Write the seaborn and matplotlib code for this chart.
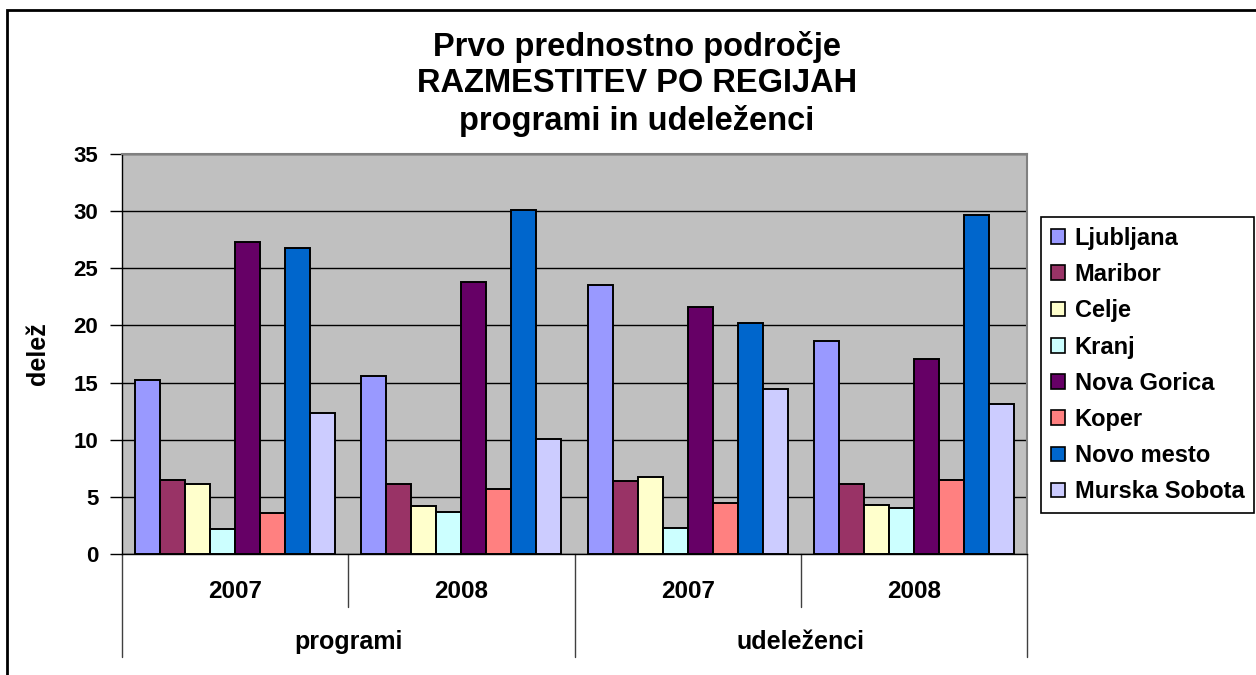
import matplotlib
matplotlib.use("Agg")
import matplotlib.pyplot as plt
import matplotlib.patches as mpatches
import matplotlib.transforms as mtransforms
import seaborn as sns
import pandas as pd

# ---- data ----
groups = ["programi", "udeleženci"]
years = ["2007", "2008"]
regions = ["Ljubljana", "Maribor", "Celje", "Kranj", "Nova Gorica",
           "Koper", "Novo mesto", "Murska Sobota"]
# values per region across: programi 2007, programi 2008, udeleženci 2007, udeleženci 2008
ljubljana = [15.2, 15.6, 23.5, 18.6]
maribor = [6.5, 6.1, 6.4, 6.1]
celje = [6.1, 4.2, 6.7, 4.3]
kranj = [2.2, 3.7, 2.3, 4.0]
nova_gorica = [27.3, 23.8, 21.6, 17.1]
koper = [3.6, 5.7, 4.5, 6.5]
novo_mesto = [26.8, 30.1, 20.2, 29.7]
murska_sobota = [12.3, 10.1, 14.4, 13.1]
colors = ["#9999FF", "#993366", "#FFFFCC", "#CCFFFF", "#660066",
          "#FF8080", "#0066CC", "#CCCCFF"]
yticks = [0, 5, 10, 15, 20, 25, 30, 35]

series = [ljubljana, maribor, celje, kranj, nova_gorica, koper, novo_mesto, murska_sobota]
cats = [f"{g} {y}" for g in groups for y in years]
rows = []
for reg, vals in zip(regions, series):
    for c, v in zip(cats, vals):
        rows.append({"kategorija": c, "regija": reg, "delez": v})
df = pd.DataFrame(rows)

sns.set_theme(style="white")
plt.rcParams["font.family"] = ["Liberation Sans", "DejaVu Sans"]
plt.rcParams["font.weight"] = "bold"
plt.rcParams["text.color"] = "black"
plt.rcParams["axes.labelcolor"] = "black"
plt.rcParams["xtick.color"] = "black"
plt.rcParams["ytick.color"] = "black"

W, H = 1256, 675
fig = plt.figure(figsize=(W / 100, H / 100), dpi=100)
ax = fig.add_axes([122 / W, 1 - 554 / H, 905 / W, 400 / H])
ax.set_facecolor("#C0C0C0")

sns.barplot(data=df, x="kategorija", y="delez", hue="regija", order=cats,
            hue_order=regions, palette=colors, width=0.884, dodge=True,
            edgecolor="black", linewidth=1.4, saturation=1, ax=ax, zorder=3)

ax.set_xlim(-0.5, len(cats) - 0.5)
ax.set_ylim(0, 35)
ax.set_yticks(yticks)
ax.set_yticklabels([str(t) for t in yticks], fontsize=16, fontweight="bold", color="black")
ax.yaxis.grid(True, color="black", linewidth=1)
ax.set_axisbelow(True)
ax.tick_params(axis="y", length=9, width=1, color="black", pad=8, left=True, direction="out")
ax.tick_params(axis="x", length=0, labelbottom=False)
ax.set_xlabel("")
ax.set_ylabel("delež", fontsize=18, fontweight="bold", color="black")
ax.yaxis.set_label_coords(-(122 - 38) / 905, 0.5)
ax.yaxis.label.set_va("center")
for side in ["top", "right"]:
    ax.spines[side].set_color("#808080")
    ax.spines[side].set_linewidth(1.5)
for side in ["left", "bottom"]:
    ax.spines[side].set_color("black")
    ax.spines[side].set_linewidth(1)

# hierarchical category axis
trans = mtransforms.blended_transform_factory(ax.transData, ax.transAxes)
inner_bottom = -(607 - 554) / 400
outer_bottom = -(657 - 554) / 400
for i in range(len(cats) + 1):
    xb = i - 0.5
    yb = outer_bottom if i % len(years) == 0 else inner_bottom
    ax.plot([xb, xb], [0, yb], transform=trans, color="#404040", lw=1, clip_on=False)
for i, c in enumerate(cats):
    ax.text(i, -(592 - 554) / 400, years[i % len(years)], transform=trans,
            ha="center", va="center", fontsize=17.5, fontweight="bold", color="black")
for j, g in enumerate(groups):
    xc = j * len(years) + (len(years) - 1) / 2
    ax.text(xc, -(642 - 554) / 400, g, transform=trans,
            ha="center", va="center", fontsize=18, fontweight="bold", color="black")

# title
title_lines = ["Prvo prednostno področje", "RAZMESTITEV PO REGIJAH", "programi in udeleženci"]
for line, yp in zip(title_lines, [47, 84, 121]):
    fig.text(637 / W, 1 - yp / H, line, ha="center", va="center",
             fontsize=23.5, fontweight="bold", color="black")

# legend
handles, labels = ax.get_legend_handles_labels()
if ax.get_legend() is not None:
    ax.get_legend().remove()
leg = fig.legend(handles, labels, loc="upper left",
                 bbox_to_anchor=(1041 / W, 1 - 217 / H), bbox_transform=fig.transFigure,
                 borderaxespad=0, frameon=True, fancybox=False, shadow=False,
                 framealpha=1, edgecolor="black", prop={"size": 17, "weight": "bold"},
                 handlelength=0.58, handleheight=0.58, handletextpad=0.42,
                 labelspacing=0.56, borderpad=0.42)
leg.get_frame().set_linewidth(1.2)
for h in leg.legend_handles:
    h.set_edgecolor("black")
    h.set_linewidth(1.2)
for t in leg.get_texts():
    t.set_color("black")

# outer chart border
border = mpatches.Rectangle((7 / W, -0.1), 1.2, 1 - 10 / H + 0.1, transform=fig.transFigure,
                            fill=False, edgecolor="black", linewidth=2, clip_on=False)
fig.add_artist(border)

fig.savefig("out.png", dpi=100, facecolor="white")
